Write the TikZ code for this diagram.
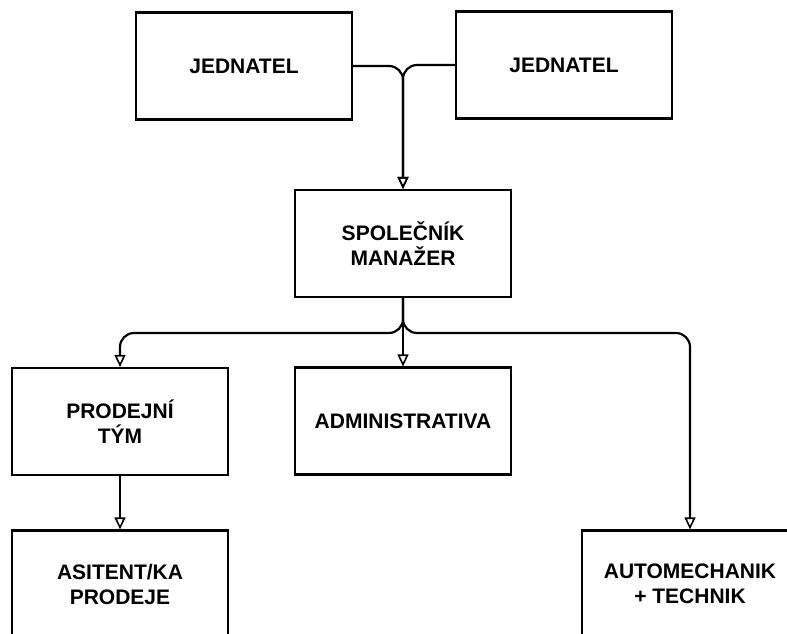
\documentclass[tikz,border=0pt]{standalone}
\usepackage{fontspec}
\setmainfont{Liberation Sans}
\usepackage{tikz}
\usepackage{xcolor}
\usetikzlibrary{arrows.meta}

\begin{document}
\begin{tikzpicture}[x=1pt, y=-1pt,
    box/.style={draw, line width=2.2pt, minimum width=216pt, minimum height=107pt,
        align=center, font=\fontsize{21}{25}\selectfont\bfseries, inner sep=0pt},
    link/.style={line width=2.2pt, rounded corners=14pt,
        -{Triangle[open, length=12pt, width=11pt, line width=1.6pt]}}]
    % Define page size
    \def\pageW{787}
    \def\pageH{634}
    \useasboundingbox (0,0) rectangle (\pageW,\pageH);

    % Draw the boxes
    \node[box] (jed1) at (244,66) {JEDNATEL};
    \node[box] (jed2) at (564,65) {JEDNATEL};
    \node[box] (spol) at (403,243.5) {SPOLEČNÍK\\MANAŽER};
    \node[box] (prod) at (120,421.5) {PRODEJNÍ\\TÝM};
    \node[box] (admin) at (403,421) {ADMINISTRATIVA};
    \node[box] (asist) at (120,584) {ASITENT/KA\\PRODEJE};
    \node[box] (auto) at (690,584) {AUTOMECHANIK\\+ TECHNIK};

    % Define coordinate for the split
    \coordinate (split) at (403,333);

    % Draw connectors from the top
    \draw[link] (jed1.east) -| (spol.north);
    \draw[link] (jed2.west) -| (spol.north);

    % Draw connectors below SPOLECNIK
    \draw[link] (spol.south) |- (prod.north |- split) -- (prod.north);
    \draw[link] (spol.south) -- (admin.north);
    \draw[link] (spol.south) |- (auto.north |- split) -- (auto.north);
    \draw[link] (prod.south) -- (asist.north);
\end{tikzpicture}
\end{document}
